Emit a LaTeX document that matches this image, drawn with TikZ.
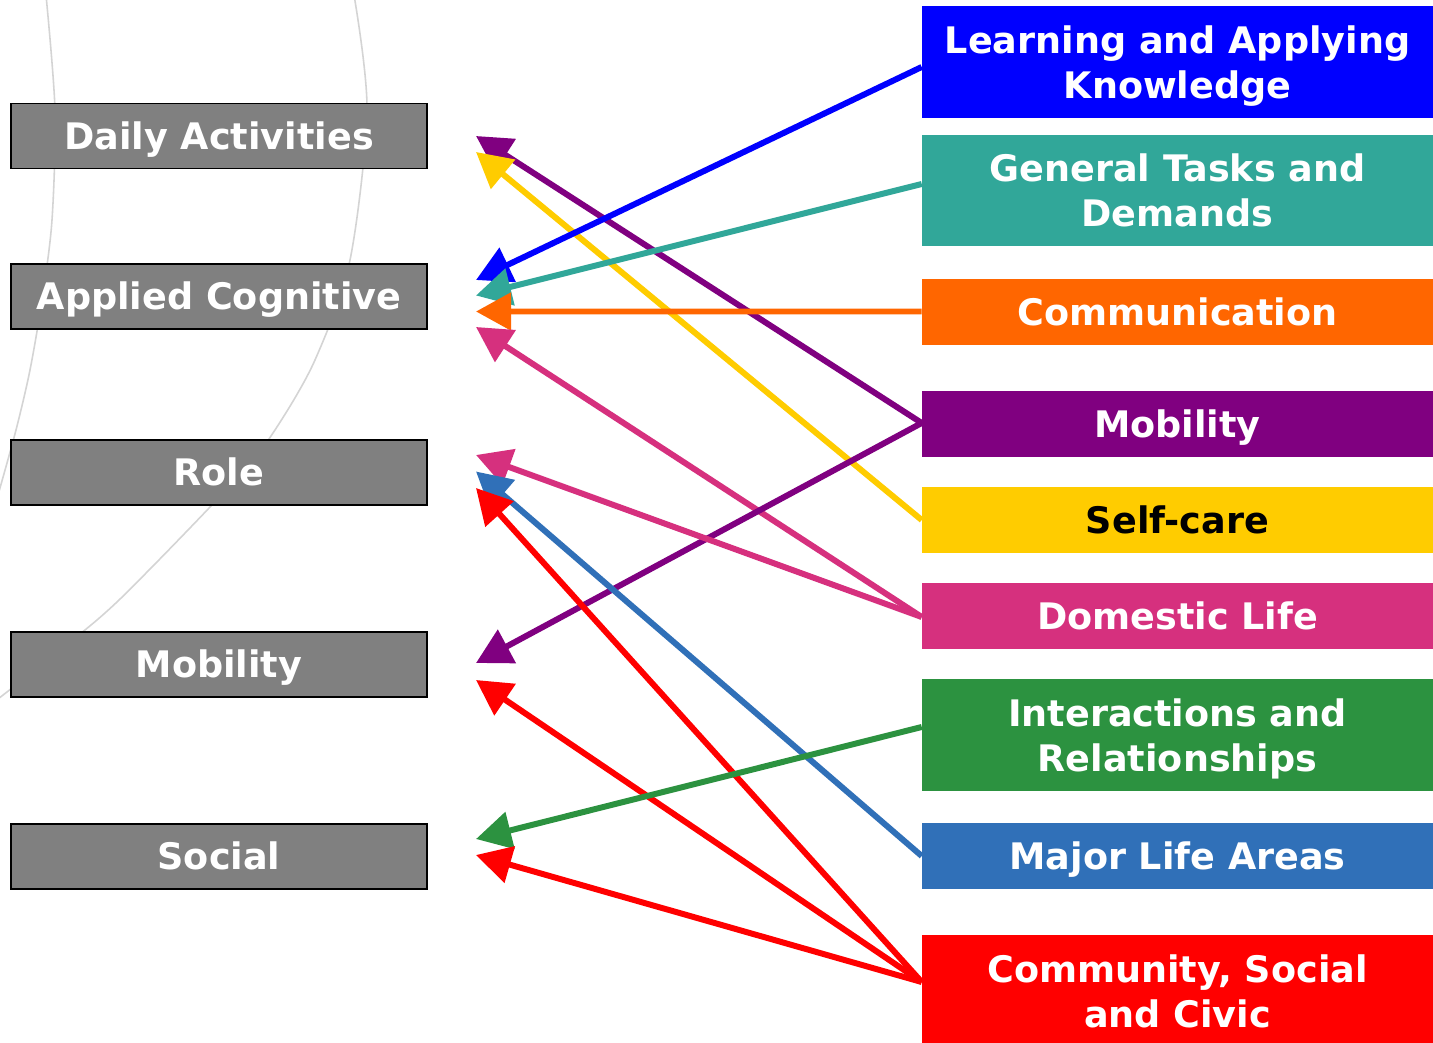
\documentclass[tikz,border=0pt]{standalone}
\usepackage{fontspec}
\setmainfont{DejaVu Sans}
\usetikzlibrary{arrows.meta,calc}
\definecolor{boxgray}{HTML}{808080}
\definecolor{cblue}{HTML}{0000FF}
\definecolor{cteal}{HTML}{31A799}
\definecolor{corange}{HTML}{FF6600}
\definecolor{cpurple}{HTML}{800080}
\definecolor{cyellow}{HTML}{FFCC00}
\definecolor{cpink}{HTML}{D6307E}
\definecolor{cgreen}{HTML}{2C9240}
\definecolor{cblueb}{HTML}{3070B8}
\definecolor{cred}{HTML}{FF0000}
\definecolor{arcgray}{HTML}{D4D4D4}
\begin{document}
\begin{tikzpicture}[x=0.02cm,y=-0.02cm,
  txt/.style={font=\fontsize{20.8}{25.5}\selectfont\bfseries},
  oneline/.style={text height=15.2pt,text depth=0pt},
  lbox/.style={txt,oneline,draw=black,line width=1pt,fill=boxgray,text=white,minimum width=8.32cm,minimum height=1.3cm,inner sep=0pt},
  rbox/.style={txt,fill=#1,text=white,minimum width=10.22cm,inner sep=0pt,align=center},
  tall/.style={minimum height=2.24cm,text depth=0pt},
  short/.style={oneline,minimum height=1.32cm},
  conn/.style={draw=#1,line width=3.4pt,-{Triangle[length=20pt,width=21pt]}},
  bgarc/.style={draw=arcgray,line width=0.9pt}]
\fill[white] (0,0) rectangle (1433,1043);
\useasboundingbox (0,0) rectangle (1433,1043);
% background arcs
\draw[bgarc] plot[smooth] coordinates {(46,-5) (55,110) (52,220) (42,300) (30,370) (16,430) (-2,495)};
\draw[bgarc] plot[smooth] coordinates {(354,-5) (367,110) (350,260) (315,360) (275,430) (240,475) (153,566) (97,620) (-2,699)};
% left boxes
\node[lbox] (daily) at (219,136) {Daily Activities};
\node[lbox] (applied) at (219,296.5) {Applied Cognitive};
\node[lbox] (role) at (219,472.5) {Role};
\node[lbox] (lmob) at (219,664.5) {Mobility};
\node[lbox] (social) at (219,856.5) {Social};
% right boxes
\node[rbox=cblue,tall] (learn) at (1177.5,62) {Learning and Applying\\Knowledge};
\node[rbox=cteal,tall] (gen) at (1177.5,190.5) {General Tasks and\\Demands};
\node[rbox=corange,short] (comm) at (1177.5,312) {Communication};
\node[rbox=cpurple,short] (rmob) at (1177.5,424) {Mobility};
\node[rbox=cyellow,short,text=black] (self) at (1177.5,520) {Self-care};
\node[rbox=cpink,short] (dom) at (1177.5,616) {Domestic Life};
\node[rbox=cgreen,tall] (inter) at (1177.5,735) {Interactions and\\Relationships};
\node[rbox=cblueb,short] (major) at (1177.5,856) {Major Life Areas};
\node[rbox=cred,tall] (csc) at (1177.5,991) {Community, Social\\and Civic};
% arrow tip coordinates
\coordinate (tda1) at (476,136);
\coordinate (tda2) at (476,152);
\coordinate (tac1) at (476,280);
\coordinate (tac2) at (476,295.5);
\coordinate (tac3) at (476,311.5);
\coordinate (tac4) at (476,327);
\coordinate (tro1) at (476,455);
\coordinate (tro2) at (476,471.5);
\coordinate (tro3) at (476,488);
\coordinate (tmo1) at (476,663);
\coordinate (tmo2) at (476,680);
\coordinate (tso1) at (476,839);
\coordinate (tso2) at (476,855);
% connectors
\draw[conn=cpurple] ($(rmob.west)+(0,-1)$) -- (tda1);
\draw[conn=cyellow] (self.west) -- (tda2);
\draw[conn=cblue] ($(learn.west)+(0,5)$) -- (tac1);
\draw[conn=cteal] ($(gen.west)+(0,-6.5)$) -- (tac2);
\draw[conn=corange] ($(comm.west)+(0,-0.5)$) -- (tac3);
\draw[conn=cpink] ($(dom.west)+(0,1)$) -- (tac4);
\draw[conn=cpurple] ($(rmob.west)+(0,-1)$) -- (tmo1);
\draw[conn=cpink] ($(dom.west)+(0,1)$) -- (tro1);
\draw[conn=cblueb] (major.west) -- (tro2);
\draw[conn=cred] ($(csc.west)+(0,-9)$) -- (tro3);
\draw[conn=cred] ($(csc.west)+(0,-9)$) -- (tmo2);
\draw[conn=cgreen] ($(inter.west)+(0,-8)$) -- (tso1);
\draw[conn=cred] ($(csc.west)+(0,-9)$) -- (tso2);
\end{tikzpicture}
\end{document}
